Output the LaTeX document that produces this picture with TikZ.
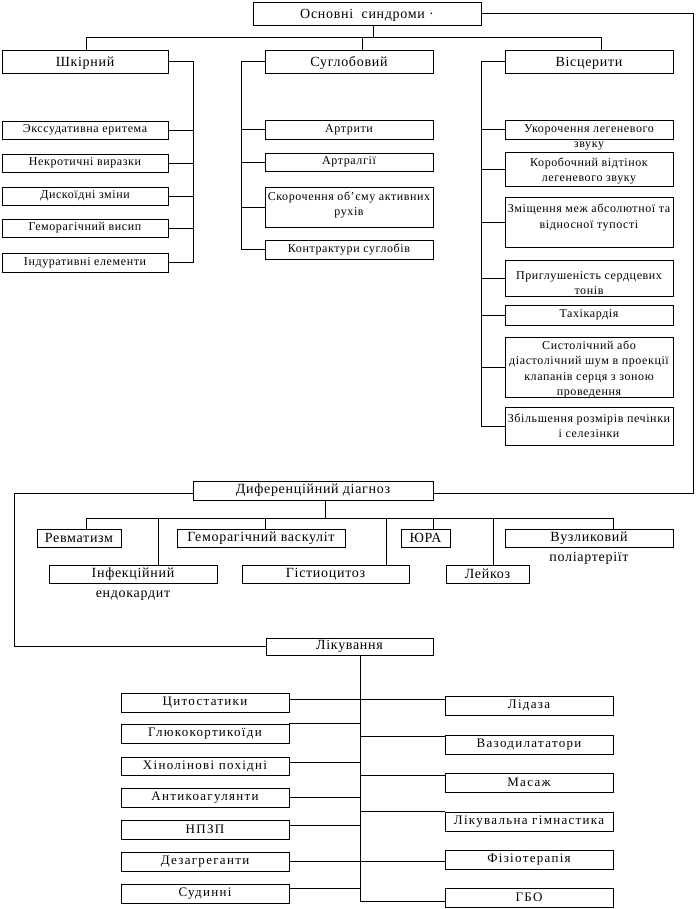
\documentclass[tikz,border=0pt]{standalone}
\usepackage{fontspec}
\setmainfont{Liberation Serif}[LetterSpace=5]
\newcommand\fbig{\fontsize{14}{16}\selectfont}
\newcommand\fmed{\fontsize{13}{15.5}\selectfont\addfontfeature{LetterSpace=10}}
\newcommand\fsm{\fontsize{12}{15.5}\selectfont}
\tikzset{
  box/.style={draw, line width=0.9pt, inner sep=0pt, rectangle, align=center, font=\fsm},
  txt/.style={inner sep=0pt, align=center, font=\fsm},
  ln/.style={line width=0.9pt},
  lowtext/.style={text height=10.5pt, text depth=0pt},
}
\newcommand\bx[7][]{\node[box,#1, minimum width={(#5-#3)*1pt}, minimum height={(#6-#4)*1pt}] (#2) at ({(#3+#5)/2},{(#4+#6)/2}) {#7};}
\begin{document}
\begin{tikzpicture}[x=1pt,y=-1pt]
\useasboundingbox (0,0) rectangle (698,909);
% top level
\bx[font=\fbig,lowtext]{top}{253}{2}{481}{25}{Основні\ \ синдроми ·}
\bx[font=\fbig,lowtext]{shk}{2}{50}{168}{73}{Шкірний}
\bx[font=\fbig,lowtext]{sug}{265}{50}{433}{73}{Суглобовий}
\bx[font=\fbig,lowtext]{vis}{505}{50}{673}{73}{Вісцерити}
\coordinate (hb) at (373,37);
\coordinate (d1) at (86,37);
\coordinate (d2) at (362,37);
\coordinate (d3) at (601,37);
\draw[ln] (top.south -| hb) -- (hb);
\draw[ln] (d1 |- shk.north) -- (d1) -- (d3) -- (d3 |- vis.north);
\draw[ln] (d2) -- (d2 |- sug.north);
% skin
\bx{e1}{2}{121}{168}{139}{Экссудативна еритема}
\bx{e2}{2}{154}{168}{172}{Некротичні виразки}
\bx{e3}{2}{187}{168}{205}{Дискоїдні зміни}
\bx{e4}{2}{219}{168}{237}{Геморагічний висип}
\bx{e5}{2}{253}{168}{272}{Індуративні елементи}
\coordinate (s1) at (193,0);
\draw[ln] (shk.east) -| (s1 |- e5.east) -- (e5.east);
\foreach \n in {e1,e2,e3,e4} \draw[ln] (\n.east) -- (\n.east -| s1);
% joints
\bx{a1}{265}{120}{433}{139}{Артрити}
\bx{a2}{265}{153}{433}{171}{Артралгії}
\bx{a3}{265}{187}{433}{227}{}
\node[txt] (a3t) at (349,205) {Скорочення об’єму активних\\рухів};
\bx{a4}{265}{240}{433}{259}{Контрактури суглобів}
\coordinate (s2) at (241,0);
\draw[ln] (sug.west) -| (s2 |- a4.west) -- (a4.west);
\foreach \n in {a1,a2,a3} \draw[ln] (\n.west) -- (\n.west -| s2);
% visceral
\bx{v1}{505}{120}{673}{139}{}
\node[txt] (v1t) at (589,137.5) {Укорочення легеневого\\звуку};
\bx{v2}{505}{152}{673}{186}{}
\node[txt] (v2t) at (589,171) {Коробочний відтінок\\легеневого звуку};
\bx{v3}{505}{197}{673}{247}{}
\node[txt] (v3t) at (589,217.5) {Зміщення меж абсолютної та\\відносної тупості};
\bx{v4}{505}{260}{673}{296}{}
\node[txt] (v4t) at (589,283) {Приглушеність сердцевих\\тонів};
\bx{v5}{505}{305}{673}{325}{Тахікардія}
\bx{v6}{505}{337}{673}{397}{}
\node[txt] (v6t) at (589,369.5) {Систолічний або\\діастолічний шум в проекції\\клапанів серця з зоною\\проведення};
\bx{v7}{505}{407}{673}{445}{Збільшення розмірів печінки\\і селезінки}
\coordinate (s3) at (481,0);
\draw[ln] (vis.west) -| (s3 |- v7.west) -- (v7.west);
\foreach \n in {v1,v2,v3,v4,v5,v6} \draw[ln] (\n.west) -- (\n.west -| s3);
% differential diagnosis
\bx[font=\fbig]{dif}{193}{481}{433}{500}{Диференційний діагноз}
\coordinate (dr) at ([yshift=-3pt]dif.east);
\coordinate (dl) at ([yshift=-3pt]dif.west);
\coordinate (rt) at (693,0);
\draw[ln] (top.east) -| (rt |- dr) -- (dr);
\bx[font=\fbig]{r1}{37}{529}{121}{547}{Ревматизм}
\bx[font=\fbig]{r2}{49}{565}{217}{583}{Інфекційний}
\node[txt, font=\fbig] (r2t) at (133,596) {ендокардит};
\bx[font=\fbig]{r3}{177}{529}{345}{547}{Геморагічний васкуліт}
\bx[font=\fbig]{r4}{242}{565}{409}{583}{Гістиоцитоз}
\bx[font=\fbig]{r5}{401}{529}{450}{547}{ЮРА}
\bx[font=\fbig]{r6}{446}{565}{529}{583}{Лейкоз}
\bx[font=\fbig]{r7}{505}{529}{673}{547}{Вузликовий}
\node[txt, font=\fbig] (r7t) at (589,558) {поліартеріїт};
\coordinate (db) at (325,518);
\draw[ln] (db |- dif.south) -- (db);
\coordinate (q1) at (86,518);
\coordinate (q2) at (158,518);
\coordinate (q3) at (265,518);
\coordinate (q4) at (386,518);
\coordinate (q5) at (433,518);
\coordinate (q6) at (493,518);
\coordinate (q7) at (613,518);
\draw[ln] (q1) -- (q7);
\draw[ln] (q1) -- (q1 |- r1.north);
\draw[ln] (q2) -- (q2 |- r2.north);
\draw[ln] (q3) -- (q3 |- r3.north);
\draw[ln] (q4) -- (q4 |- r4.north);
\draw[ln] (q5) -- (q5 |- r5.north);
\draw[ln] (q6) -- (q6 |- r6.north);
\draw[ln] (q7) -- (q7 |- r7.north);
% treatment
\bx[font=\fbig]{lik}{266}{638}{433}{655}{Лікування}
\coordinate (lx) at (14,0);
\draw[ln] (dl) -| (lx |- lik.west) -- (lik.west);
\bx[font=\fmed]{c1}{121}{693}{289}{712}{Цитостатики}
\bx[font=\fmed]{c2}{121}{724}{289}{743}{Глюкокортикоїди}
\bx[font=\fmed]{c3}{121}{757}{289}{775}{Хінолінові похідні}
\bx[font=\fmed]{c4}{121}{788}{289}{807}{Антикоагулянти}
\bx[font=\fmed]{c5}{121}{820}{289}{839}{НПЗП}
\bx[font=\fmed]{c6}{121}{852}{289}{871}{Дезагреганти}
\bx[font=\fmed]{c7}{121}{884}{289}{903}{Судинні}
\bx[font=\fmed]{ld}{445}{696}{613}{715}{Лідаза}
\bx[font=\fmed]{vz}{445}{735}{613}{754}{Вазодилататори}
\bx[font=\fmed]{ms}{445}{773}{613}{792}{Масаж}
\bx[font=\fmed]{lg}{445}{812}{613}{831}{Лікувальна гімнастика}
\bx[font=\fmed]{fz}{445}{850}{613}{869}{Фізіотерапія}
\bx[font=\fmed]{gb}{445}{888}{613}{907}{ГБО}
\coordinate (sp) at (360,0);
\coordinate (gbc) at ([yshift=-3.5pt]gb.west);
\draw[ln] (lik.south -| sp) -- (sp |- gbc) -- (gbc);
\coordinate (c1r) at ([yshift=3.5pt]c1.east);
\draw[ln] (c1r) -- (c1r -| ld.west);
\draw[ln] (c2.north east) -- (c2.north east -| sp);
\coordinate (vzl) at ([yshift=-2pt]vz.north west);
\draw[ln] (vzl -| sp) -- (vzl);
\coordinate (c3r) at ([yshift=4pt]c3.east);
\draw[ln] (c3r) -- (c3r -| sp);
\coordinate (msl) at ([yshift=-3pt]ms.north west);
\draw[ln] (msl -| sp) -- (msl);
\draw[ln] (c4.east) -- (c4.east -| sp);
\draw[ln] (lg.north west -| sp) -- (lg.north west);
\coordinate (c5r) at ([yshift=4.5pt]c5.east);
\draw[ln] (c5r) -- (c5r -| sp);
\draw[ln] (c6.east) -- (c6.east -| fz.west);
\coordinate (c7r) at ([yshift=5.5pt]c7.east);
\draw[ln] (c7r) -- (c7r -| sp);
\end{tikzpicture}
\end{document}
